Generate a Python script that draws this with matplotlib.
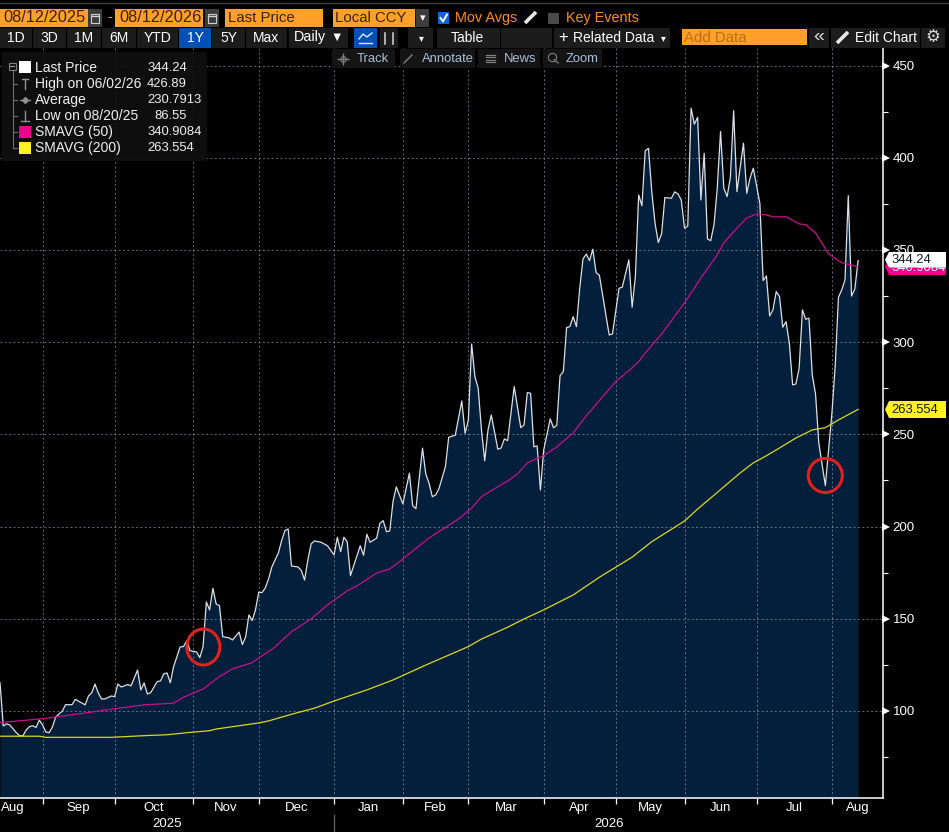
import matplotlib
matplotlib.use('Agg')
import matplotlib.pyplot as plt
from matplotlib.patches import Rectangle, Polygon, Ellipse

# price trace (session number since 08/12/2025, price)
price_days = [0, 1, 2, 3, 5, 6, 7, 8, 9, 10, 11, 12, 13, 14, 15, 16, 17, 18, 19, 20, 22, 23, 25, 26, 27, 28, 29, 30, 31, 32,
              34, 35, 36, 37, 39, 40, 42, 43, 44, 45, 46, 48, 49, 50, 51, 52, 53, 55, 56, 57, 58, 60, 61, 62, 63, 64, 65,
              66, 67, 68, 70, 71, 73, 74, 75, 76, 77, 78, 79, 80, 81, 82, 83, 85, 86, 87, 88, 89, 91, 92, 93, 94, 95, 96,
              98, 100, 102, 103, 104, 105, 106, 107, 110, 111, 112, 113, 115, 116, 117, 118, 119, 120, 121, 123, 125, 126,
              127, 129, 130, 131, 132, 133, 134, 136, 137, 139, 141, 142, 143, 144, 145, 146, 147, 148, 149, 150, 152, 153,
              154, 155, 157, 159, 160, 161, 162, 163, 164, 165, 166, 168, 169, 170, 171, 172, 173, 174, 175, 176, 177, 178,
              179, 180, 181, 182, 183, 186, 187, 189, 190, 192, 193, 194, 195, 196, 197, 198, 199, 200, 201, 202, 203, 205,
              206, 207, 208, 209, 210, 211, 212, 213, 214, 215, 216, 217, 218, 219, 220, 221, 222, 223, 224, 225, 227, 228,
              229, 230, 232, 233, 234, 235, 236, 237, 238, 239, 240, 241, 242, 243, 244, 245, 246, 247, 248, 249, 250, 252,
              254, 255, 256, 257, 258, 259, 260, 261, 262]
prices = [115.3, 91.9, 93.0, 92.4, 88.2, 86.6, 86.55, 89.7, 91.5, 92.0, 91.0, 95.1, 92.4, 88.6, 88.2, 91.3, 96.7, 98.4, 99.8, 103.4,
          103.4, 106.3, 104.3, 103.3, 108.1, 109.8, 114.6, 109.8, 106.5, 106.5,
          108.1, 107.8, 114.6, 113.0, 114.3, 113.6, 122.2, 111.4, 115.2, 109.2, 109.9, 115.9, 116.3, 120.1, 120.6, 115.3, 124.0,
          134.7, 134.9, 138.0, 132.7, 132.0, 128.9, 134.9, 159.1, 154.8, 166.5,
          158.0, 157.1, 140.3, 139.6, 138.5, 142.8, 136.0, 140.1, 152.1, 149.0, 154.8, 164.4, 164.2, 166.7, 171.6, 178.1,
          185.7, 192.4, 197.8, 198.7, 178.6, 178.1, 176.1, 171.0, 181.9, 190.6, 192.2,
          191.5, 189.6, 184.6, 194.2, 186.4, 194.2, 191.8, 173.4, 189.6, 184.4, 195.8, 191.5, 193.7, 201.8, 203.2, 197.2, 197.6,
          213.5, 221.5, 212.3, 228.9, 211.3,
          209.7, 242.5, 228.5, 223.5, 216.2, 217.1, 220.4, 232.5, 248.4, 249.5, 268.1, 250.6, 257.8, 299.0, 281.3, 275.0, 252.4,
          235.7, 252.4, 260.5, 241.9, 242.6,
          247.5, 246.6, 275.9, 253.6, 255.1, 272.6, 272.3, 243.3, 243.7, 219.8, 241.5, 258.4, 253.6, 254.9, 281.8, 284.0, 307.9,
          308.4, 313.8, 308.4, 329.2, 345.1,
          347.8, 344.2, 350.4, 337.7, 336.3, 303.9, 304.4, 329.2, 329.8, 344.6, 318.9, 335.5, 379.8, 374.0, 403.8, 405.1, 381.6,
          364.5, 354.0, 358.7, 378.4, 378.0,
          381.5, 380.4, 377.1, 361.8, 363.0, 426.89, 418.2, 421.9, 377.1, 402.4, 356.0, 355.0, 363.6, 383.5, 414.2, 383.5, 378.9,
          389.4, 425.5, 381.6, 407.9, 380.7,
          388.9, 394.3, 375.3, 333.4, 335.9, 314.2, 317.5, 327.4, 324.7, 308.1, 311.1, 299.4, 276.8, 277.3, 285.8, 317.5, 312.4,
          313.0, 282.2, 271.9, 245.2, 222.2,
          261.4, 286.7, 324.3, 328.3, 333.7, 379.4, 325.0, 328.8, 344.24]

sma50_days = [0, 13, 24, 35, 44, 53, 56, 62, 67, 71, 77, 84, 89, 95, 100, 106, 109, 115, 119, 122, 131, 140, 144, 147, 150, 155,
              158, 161, 166, 170, 175, 179, 184, 188, 192, 195, 197, 202, 209, 214, 219, 221, 224, 228, 231, 234, 236, 240,
              244, 246, 249, 253, 257, 262]
sma50 = [93.7, 95.8, 98.4, 101.2, 103.3, 104.2, 107.4, 111.9, 118.6, 122.8, 126.2, 134.7, 143.0, 149.9, 157.5, 165.1, 167.8, 174.8,
         177.0, 181.0, 193.8, 204.1, 210.0, 216.2, 219.5, 224.7, 228.5, 234.5, 238.4, 243.2, 250.8, 260.0, 270.4, 278.6, 284.5,
         289.4, 294.1, 304.4, 321.3, 334.8, 347.3, 353.8, 359.9, 367.3, 369.5, 369.0, 367.9, 368.0, 364.1, 363.7, 359.2, 347.8,
         343.0, 340.91]

sma200_days = [0, 12, 14, 34, 44, 51, 57, 64, 66, 79, 82, 89, 96, 102, 112, 120, 130, 143, 147, 155, 160, 166, 175, 183, 193, 199,
               209, 213, 217, 226, 230, 234, 238, 243, 248, 252, 256, 262]
sma200 = [86.3, 86.3, 85.7, 85.7, 86.6, 87.1, 88.2, 89.3, 90.2, 93.5, 94.6, 98.2, 101.5, 105.4, 111.4, 116.8, 124.9, 134.9, 139.0,
          145.4, 149.9, 154.8, 162.9, 172.5, 183.4, 191.8, 203.0, 209.5, 215.5, 229.1, 234.5, 238.4, 242.6, 248.0, 252.4, 253.6,
          257.8, 263.55]

month_ticks = [13, 35, 59, 79, 102, 123, 143, 166, 188, 209, 231, 254]
month_labels = ['Aug', 'Sep', 'Oct', 'Nov', 'Dec', 'Jan', 'Feb', 'Mar', 'Apr', 'May', 'Jun', 'Jul', 'Aug']
y_major = [100, 150, 200, 250, 300, 350, 400, 450]
y_minor = [75, 125, 175, 225, 275, 325, 375, 425]

legend_names = ['Last Price', 'High on 06/02/26', 'Average', 'Low on 08/20/25', 'SMAVG (50)', 'SMAVG (200)']
legend_values = ['344.24', '426.89', '230.7913', '86.55', '340.9084', '263.554']
range_buttons = ['1D', '3D', '1M', '6M', 'YTD', '1Y', '5Y', 'Max']

ORANGE = '#ffa028'
AMBER = '#ff8c14'
NAVY = '#031f3c'
MAGENTA = '#c8108c'
YELLOW = '#dcd81c'
BTN = '#1c1c1c'

plt.rcParams['font.family'] = ['Liberation Sans', 'DejaVu Sans']

fig = plt.figure(figsize=(9.49, 8.32), dpi=100, facecolor='black')
ax = fig.add_axes([0, 1 - 798 / 832, 883 / 949, 750 / 832], facecolor='black')
ax.set_xlim(0, 269.6)
ax.set_ylim(52.8, 459.5)

ax.fill_between(price_days, prices, 0, color=NAVY, lw=0, zorder=1)
ax.grid(True, which='major', color='#8a98a8', ls=(0, (2, 2.5)), lw=0.7, alpha=0.7, zorder=2)
ax.set_axisbelow(False)
ax.plot(price_days, prices, color='#dde0e4', lw=0.9, zorder=4)
ax.plot(sma50_days, sma50, color=MAGENTA, lw=0.9, zorder=5)
ax.plot(sma200_days, sma200, color=YELLOW, lw=0.9, zorder=5)

# axes
for s in ['left', 'top']:
    ax.spines[s].set_visible(False)
for s in ['right', 'bottom']:
    ax.spines[s].set_color('white')
    ax.spines[s].set_linewidth(1.1)
ax.yaxis.tick_right()
ax.set_yticks(y_major)
ax.set_yticks(y_minor, minor=True)
ax.tick_params(axis='y', which='major', length=0, pad=7, labelcolor='white', labelsize=9.5)
ax.tick_params(axis='y', which='minor', length=3.5, width=0.8, color='white')
ax.plot([1.0035] * len(y_major), y_major, marker='>', ms=5.5, mew=0, color='white', lw=0, clip_on=False,
        transform=ax.get_yaxis_transform(), zorder=6)
ax.set_xticks(month_ticks)
ax.set_xticklabels([])
ax.tick_params(axis='x', which='major', length=4.5, width=0.9, color='white')

edges = [-5] + month_ticks + [269.6]
for i, name in enumerate(month_labels):
    ax.text((edges[i] + edges[i + 1]) / 2, -0.0135, name, color='white', fontsize=9.5, ha='center', va='center',
            transform=ax.get_xaxis_transform())
ax.text(51, -0.0345, '2025', color='white', fontsize=9.5, ha='center', va='center', transform=ax.get_xaxis_transform())
ax.text(186, -0.0345, '2026', color='white', fontsize=9.5, ha='center', va='center', transform=ax.get_xaxis_transform())

# everything else is terminal chrome, drawn in pixel coordinates
ov = fig.add_axes([0, 0, 1, 1])
ov.set_xlim(0, 949)
ov.set_ylim(832, 0)
ov.axis('off')
ov.patch.set_alpha(0)


def box(x0, y0, x1, y1, color, **kw):
    ov.add_patch(Rectangle((x0, y0), x1 - x0, y1 - y0, facecolor=color, edgecolor='none', **kw))


def txt(x, y, s, color='white', size=9.6, ha='left', **kw):
    ov.text(x, y, s, color=color, fontsize=size, ha=ha, va='center', **kw)


def calendar(x):
    box(x, 9, x + 14, 27, '#3c3c3c')
    ov.add_patch(Rectangle((x + 3, 14), 8, 9, facecolor='none', edgecolor='#d0d0d0', lw=0.8))
    ov.plot([x + 3, x + 11], [16, 16], color='#d0d0d0', lw=1)


ov.plot([0, 949], [2.5, 2.5], color='#3a3a3a', lw=1)

# first row
box(0, 9, 88, 27, ORANGE)
calendar(88)
txt(110, 17, '-', color=ORANGE, size=11, ha='center')
box(115, 9, 203, 27, ORANGE)
calendar(205)
box(225, 9, 323, 27, ORANGE)
box(333, 9, 415, 27, ORANGE)
box(416, 9, 429, 27, '#3c3c3c')
txt(422.5, 18, '▾', color='white', size=8, ha='center')
txt(3, 18, '08/12/2025', color='#3a2200', size=11.8)
txt(119, 18, '08/12/2026', color='#3a2200', size=11.8)
txt(228, 18, 'Last Price', color='#3a2200', size=10.8)
txt(335, 18, 'Local CCY', color='#3a2200', size=10.8)
box(438, 12, 449, 24, '#0a62d8')
ov.plot([440.5, 443, 447], [18, 21.5, 14.5], color='white', lw=1.4)
txt(455, 18, 'Mov Avgs', color=AMBER, size=10.4)
ov.plot([525, 536], [23, 12], color='#e8e8e8', lw=2.6, solid_capstyle='butt')
box(548, 13, 559, 24, '#4a4a4a')
txt(566, 18, 'Key Events', color=AMBER, size=10.4)

# second row
button_edges = [(0, 32), (33, 66), (67, 101), (102, 136), (137, 178), (179, 211), (212, 245), (246, 287)]
for (x0, x1), name in zip(button_edges, range_buttons):
    box(x0, 28, x1, 48, '#0050b8' if name == '1Y' else BTN)
    txt((x0 + x1) / 2, 37.5, name, ha='center', size=10)
box(289, 28, 348, 48, BTN)
txt(294, 37.5, 'Daily', size=10.4)
txt(337, 37.5, '▼', size=9, ha='center')
box(354, 28, 377, 48, '#0050b8')
ov.plot([359, 363, 367, 372], [39, 34, 37, 33], color='#dce8ff', lw=1)
ov.plot([359, 372], [43, 43], color='#dce8ff', lw=1)
box(380, 28, 398, 48, BTN)
ov.plot([385, 385], [33, 44], color='#d8d8d8', lw=1.1)
ov.plot([393, 393], [33, 44], color='#d8d8d8', lw=1.1)
box(408, 28, 433, 48, BTN)
txt(421, 38, '▾', size=7, ha='center')
box(437, 28, 500, 48, BTN)
txt(451, 37.5, 'Table', size=10)
box(501, 28, 552, 48, BTN)
box(554, 28, 670, 48, BTN)
txt(558, 37.5, '+', size=12)
txt(573, 37.5, 'Related Data', size=10)
txt(663, 38, '▾', size=7, ha='center')
box(682, 29, 807, 45, ORANGE)
txt(684, 37.5, 'Add Data', color='#b87018', size=10.8)
box(809, 28, 829, 48, BTN)
txt(819, 36.5, '«', size=14, ha='center', color='#e0e0e0')
box(831, 28, 920, 48, BTN)
ov.plot([837, 848], [43, 32], color='#e8e8e8', lw=2.6, solid_capstyle='butt')
txt(855, 37.5, 'Edit Chart', size=10)
box(921, 28, 945, 48, BTN)
txt(933, 37.5, '⚙', size=12, ha='center', color='#d8d8d8')

# third row
for x0, x1 in [(332, 395), (400, 475), (478, 540), (543, 602)]:
    box(x0, 49, x1, 68, '#141414')
ov.plot([343], [58.5], marker='+', ms=8, color='#808080', mew=1)
ov.plot([343], [58.5], marker='o', ms=4, mfc='none', color='#808080', mew=0.8)
txt(357, 58.5, 'Track', color='#a8c0d8', size=9.4)
ov.plot([404, 412], [63, 55], color='#808080', lw=1)
txt(422, 58.5, 'Annotate', color='#a8c0d8', size=9.4)
for yy in [54.5, 57, 59.5, 62]:
    ov.plot([486, 495], [yy, yy], color='#808080', lw=0.9)
txt(504, 58.5, 'News', color='#a8c0d8', size=9.4)
ov.plot([552], [57], marker='o', ms=6, mfc='none', color='#808080', mew=0.8)
ov.plot([554, 558], [59.5, 63], color='#808080', lw=0.9)
txt(566, 58.5, 'Zoom', color='#a8c0d8', size=9.4)

# legend panel
box(2, 52, 207, 161, '#101010', alpha=0.9)
legend_rows = [68, 84, 100, 116, 132, 148]
for y, name, value in zip(legend_rows, legend_names, legend_values):
    txt(35, y, name, size=10, color='#f0f0f0')
    txt(154 if value == '86.55' else 147, y, value, size=9.4, color='#f0f0f0')
ov.plot([13, 13], [71, 148], color='#707070', lw=0.8)
for y in legend_rows[1:]:
    ov.plot([13, 17], [y, y], color='#707070', lw=0.8)
ov.add_patch(Rectangle((9, 62.5), 7, 7, facecolor='#101010', edgecolor='#808080', lw=0.8))
ov.plot([10.5, 14.5], [66, 66], color='#a0a0a0', lw=0.8)
box(19, 61, 31, 73, 'white')
box(19, 126, 31, 138, '#ec008c')
box(19, 142, 31, 154, '#fff21e')
ov.plot([25, 25], [79, 89], color='#909090', lw=1)
ov.plot([22, 28], [79, 79], color='#909090', lw=1)
ov.plot([20, 30], [100, 100], color='#909090', lw=0.9)
ov.plot([25], [100], marker='D', ms=3, color='#909090')
ov.plot([25, 25], [111, 121], color='#909090', lw=1)
ov.plot([21, 29], [121, 121], color='#909090', lw=1)


def tag(y0, y1, color):
    mid = (y0 + y1) / 2
    ov.add_patch(Polygon([(885, mid), (889, y0), (946, y0), (946, y1), (889, y1)], facecolor=color, edgecolor='none'))


# value tags at the right edge
tag(258, 275, '#ec008c')
txt(891, 268, legend_values[4], color='white', size=9.4)
tag(252, 267.5, 'white')
txt(891, 260, legend_values[0], color='#101828', size=9.4)
tag(401, 418, '#fff21e')
txt(891, 410, legend_values[5], color='#101828', size=9.4)

# red circles drawn over the chart
for cx, cy, w, h in [(203.3, 647, 33, 36), (825.3, 475.5, 34, 34)]:
    ov.add_patch(Ellipse((cx, cy), w, h, facecolor='none', edgecolor='#e2201c', lw=2.2))

# year separator below the axis
ov.plot([334, 334], [815, 832], color='#606060', lw=1)

fig.savefig('out.png', dpi=100, facecolor='black')
